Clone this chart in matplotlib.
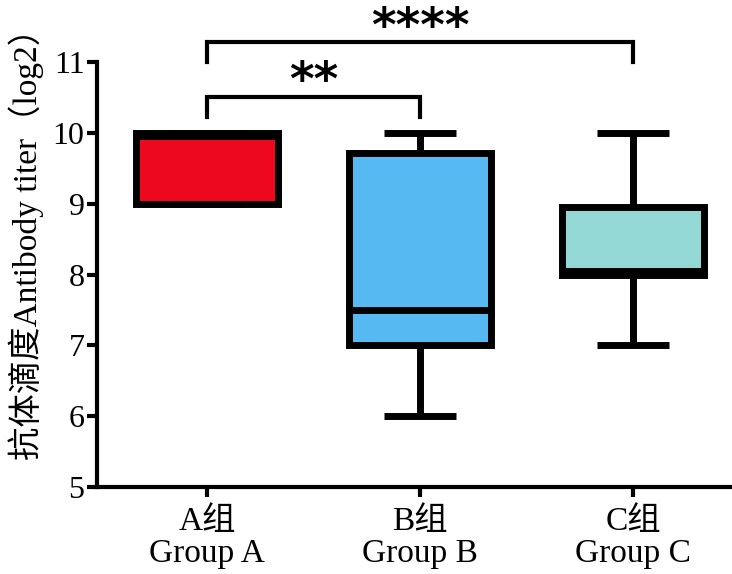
import matplotlib
matplotlib.use("Agg")
import matplotlib.pyplot as plt

# ---- data ----
groups = ["A组\nGroup A", "B组\nGroup B", "C组\nGroup C"]
whislo = [9.0, 6.0, 7.0]
q1 = [9.0, 7.0, 8.0]
med = [9.95, 7.5, 8.05]
q3 = [10.0, 9.72, 8.96]
whishi = [10.0, 10.0, 10.0]
colors = ["#EE081E", "#56B9F2", "#94D8D6"]
yticks = [5, 6, 7, 8, 9, 10, 11]
# significance brackets: (group i, group j, bar y, leg bottom y, label)
sig_pairs = [(0, 1, 10.51, 10.23, "**"), (0, 2, 11.28, 11.0, "****")]

fonts = ["Liberation Serif", "Noto Sans CJK SC"]
plt.rcParams["font.family"] = fonts

fig = plt.figure(figsize=(7.32, 5.74), dpi=100)
ax = fig.add_axes([97 / 732, 1 - 487 / 574, 1 - 97 / 732, (487 - 62) / 574])

positions = [1, 2, 3]
stats = []
for i in range(len(groups)):
    stats.append(dict(whislo=whislo[i], q1=q1[i], med=med[i], q3=q3[i],
                      whishi=whishi[i], fliers=[], label=groups[i]))

lw = 5
bp = ax.bxp(stats, positions=positions, widths=0.667, patch_artist=True,
            showfliers=False,
            boxprops=dict(edgecolor="black", linewidth=lw),
            medianprops=dict(color="black", linewidth=lw, solid_capstyle="butt"),
            whiskerprops=dict(color="black", linewidth=lw, solid_capstyle="butt"),
            capprops=dict(color="black", linewidth=lw, solid_capstyle="butt"),
            capwidths=0.34)
for patch, c in zip(bp["boxes"], colors):
    patch.set_facecolor(c)
    patch.set_joinstyle("miter")

ax.set_xlim(0.484, 3.465)
ax.set_ylim(5, 11)
ax.set_yticks(yticks)
ax.set_yticklabels([str(t) for t in yticks])
ax.set_xticks(positions)
ax.set_xticklabels(groups, linespacing=1.05, fontsize=24)

for s in ["top", "right"]:
    ax.spines[s].set_visible(False)
for s in ["left", "bottom"]:
    ax.spines[s].set_linewidth(3)
ax.tick_params(axis="both", which="major", direction="out", length=7, width=3,
               color="black")
ax.tick_params(axis="y", pad=2, labelsize=23)
ax.tick_params(axis="x", pad=7)

ax.set_ylabel("抗体滴度Antibody titer（log2）", fontsize=24)
ax.yaxis.set_label_coords(-0.083, 0.59)

for i, j, ybar, yleg, lab in sig_pairs:
    xi, xj = positions[i], positions[j]
    ax.plot([xi, xi, xj, xj], [yleg, ybar, ybar, yleg], color="black", lw=3,
            clip_on=False, solid_joinstyle="miter")
    ax.text((xi + xj) / 2, ybar + 0.02, lab, ha="center", va="baseline",
            fontsize=34, fontweight="bold", family="DejaVu Sans",
            clip_on=False)

fig.savefig("out.png", dpi=100)
